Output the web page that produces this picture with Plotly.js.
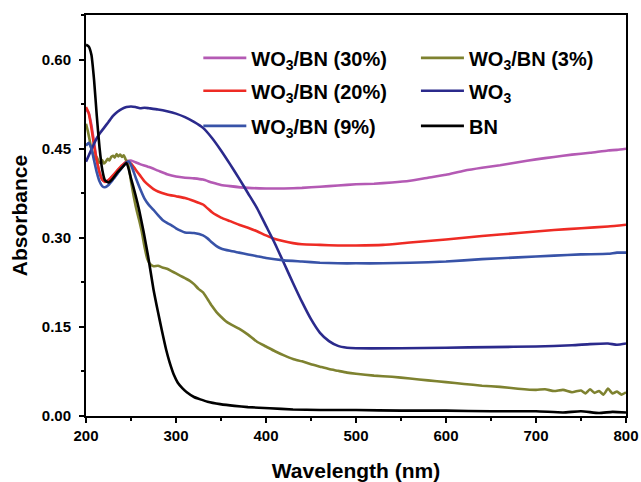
<!DOCTYPE html>
<html>
<head>
<meta charset="utf-8">
<script src="https://cdn.plot.ly/plotly-3.0.1.min.js"></script>
<style>
  html, body { margin: 0; padding: 0; background: #ffffff; }
  #chart { width: 641px; height: 482px; }
</style>
</head>
<body>
<div id="chart"></div>
<script>
// UV-Vis absorbance spectra of WO3, BN and WO3/BN composites

// WO3/BN (30%)
const wl30 = [200,203,206,209,212,215,218,221,225,230,235,240,245,250,255,260,270,280,290,300,310,320,330,340,350,360,380,400,420,440,460,480,500,520,540,560,580,600,620,640,660,680,700,720,740,760,780,790,800];
const abs30 = [0.515,0.510,0.490,0.460,0.430,0.410,0.398,0.395,0.397,0.405,0.413,0.421,0.428,0.430,0.427,0.424,0.419,0.413,0.407,0.403,0.401,0.400,0.398,0.393,0.389,0.387,0.384,0.383,0.383,0.384,0.386,0.388,0.390,0.391,0.393,0.396,0.401,0.406,0.413,0.418,0.422,0.427,0.432,0.436,0.440,0.443,0.447,0.448,0.450];

// WO3/BN (3%)
const wl3 = [200,202,204,206,208,210,212,214,216,218,220,222,224,226,228,230,232,234,236,238,240,242,244,246,248,250,253,256,259,262,265,268,271,275,280,285,290,295,300,305,310,315,320,325,330,335,340,345,350,355,360,370,380,390,400,410,420,430,440,450,460,470,480,490,500,520,540,560,580,600,620,640,660,680,700,710,720,730,740,750,755,760,765,770,775,780,785,790,795,800];
const abs3 = [0.492,0.480,0.465,0.450,0.440,0.432,0.436,0.428,0.426,0.431,0.425,0.428,0.433,0.430,0.436,0.438,0.435,0.441,0.437,0.440,0.436,0.439,0.432,0.428,0.415,0.395,0.370,0.348,0.330,0.310,0.285,0.265,0.256,0.252,0.253,0.250,0.248,0.244,0.240,0.236,0.232,0.228,0.222,0.214,0.208,0.197,0.185,0.175,0.167,0.160,0.155,0.147,0.137,0.125,0.117,0.109,0.102,0.096,0.092,0.087,0.083,0.079,0.076,0.073,0.071,0.068,0.066,0.063,0.060,0.057,0.054,0.051,0.049,0.046,0.044,0.045,0.042,0.044,0.040,0.043,0.038,0.045,0.039,0.042,0.036,0.046,0.038,0.041,0.036,0.040];

// WO3/BN (20%)
const wl20 = [200,203,206,209,212,215,218,221,225,230,235,240,245,250,255,260,265,270,275,280,290,300,310,320,330,340,345,350,360,370,380,390,400,410,420,430,440,460,480,500,530,560,600,640,680,720,750,780,800];
const abs20 = [0.520,0.510,0.485,0.455,0.430,0.410,0.398,0.394,0.397,0.405,0.414,0.422,0.428,0.425,0.415,0.405,0.395,0.388,0.382,0.378,0.373,0.370,0.367,0.362,0.356,0.343,0.338,0.334,0.328,0.322,0.317,0.311,0.304,0.298,0.294,0.291,0.289,0.288,0.287,0.287,0.288,0.292,0.297,0.303,0.308,0.313,0.316,0.319,0.322];

// WO3
const wlWO3 = [200,205,210,215,220,225,230,235,240,245,250,255,260,265,270,280,290,300,310,320,330,340,350,360,370,380,390,400,410,420,430,440,450,460,470,480,490,500,550,600,650,700,740,760,780,790,800];
const absWO3 = [0.428,0.445,0.462,0.475,0.485,0.495,0.505,0.512,0.517,0.520,0.521,0.520,0.518,0.519,0.518,0.516,0.513,0.509,0.503,0.495,0.485,0.468,0.447,0.424,0.400,0.375,0.350,0.320,0.290,0.257,0.224,0.192,0.163,0.140,0.126,0.118,0.115,0.114,0.114,0.115,0.116,0.117,0.119,0.121,0.122,0.120,0.122];

// WO3/BN (9%)
const wl9 = [200,203,206,209,212,215,218,221,225,230,235,240,245,248,252,256,260,265,270,275,280,285,290,295,300,305,310,320,330,335,340,345,350,360,370,380,390,400,420,440,460,480,500,530,560,600,640,680,720,750,780,790,800];
const abs9 = [0.455,0.460,0.450,0.430,0.410,0.395,0.387,0.385,0.389,0.398,0.408,0.418,0.427,0.428,0.415,0.398,0.383,0.366,0.355,0.347,0.338,0.330,0.325,0.321,0.316,0.312,0.309,0.308,0.304,0.299,0.292,0.286,0.282,0.278,0.275,0.272,0.269,0.266,0.262,0.260,0.258,0.257,0.257,0.257,0.258,0.260,0.264,0.267,0.270,0.272,0.273,0.275,0.275];

// BN
const wlBN = [200,203,206,209,212,215,218,221,225,230,235,240,245,250,255,259,264,269,275,280,284,289,293,298,302,307,312,320,327,335,349,365,380,404,430,460,479,500,550,600,650,700,730,750,770,785,800];
const absBN = [0.625,0.622,0.608,0.565,0.505,0.452,0.415,0.397,0.393,0.400,0.410,0.418,0.426,0.400,0.372,0.347,0.310,0.269,0.213,0.175,0.146,0.112,0.090,0.068,0.056,0.047,0.040,0.032,0.028,0.024,0.020,0.017,0.015,0.013,0.011,0.010,0.010,0.010,0.009,0.009,0.008,0.008,0.006,0.008,0.005,0.007,0.006];

// tick labels
const xTicks = [200,300,400,500,600,700,800];
const yTicks = [0.00,0.15,0.30,0.45,0.60];
const yTickText = ['0.00','0.15','0.30','0.45','0.60'];

const FONT = 'Liberation Sans, Arial, sans-serif';
const LW = 2.6;

// one legend box per entry, laid out as two columns by three rows
const legendCols = [0.208, 0.611];
const legendRows = [0.893, 0.811, 0.7235];

function series(x, y, name, color, legendId) {
  return {
    type: 'scatter', mode: 'lines', x: x, y: y, name: name,
    line: { color: color, width: LW, shape: 'spline', smoothing: 0.5 },
    legend: legendId
  };
}

const traces = [
  series(wl30, abs30, 'WO<sub>3</sub>/BN (30%)', '#b45ab4', 'legend'),
  series(wl3, abs3, 'WO<sub>3</sub>/BN (3%)', '#7e8230', 'legend2'),
  series(wl20, abs20, 'WO<sub>3</sub>/BN (20%)', '#ee2b24', 'legend3'),
  series(wlWO3, absWO3, 'WO<sub>3</sub>', '#2b2a8c', 'legend4'),
  series(wl9, abs9, 'WO<sub>3</sub>/BN (9%)', '#3853a8', 'legend5'),
  series(wlBN, absBN, 'BN', '#000000', 'legend6')
];

function legendBox(col, row) {
  return {
    orientation: 'v', x: legendCols[col], xanchor: 'left', y: legendRows[row], yanchor: 'middle',
    bgcolor: 'rgba(0,0,0,0)', borderwidth: 0, itemwidth: 43,
    font: { family: FONT, size: 20, weight: 'bold', color: '#000' }
  };
}

const axisCommon = {
  showline: true, linewidth: 2, linecolor: '#000', mirror: true,
  ticks: 'outside', ticklen: 5, tickwidth: 2, tickcolor: '#000',
  showgrid: false, zeroline: false,
  tickfont: { family: FONT, size: 15, weight: 'bold', color: '#000' }
};

const layout = {
  width: 641, height: 482,
  margin: { l: 86, r: 15, t: 15, b: 66 },
  paper_bgcolor: '#ffffff', plot_bgcolor: '#ffffff',
  showlegend: true,
  xaxis: Object.assign({}, axisCommon, {
    range: [200, 800], tickvals: xTicks,
    minor: { ticks: 'outside', ticklen: 3, tickwidth: 2, tickcolor: '#000', dtick: 50, tick0: 200 },
    title: { text: 'Wavelength (nm)', standoff: 21, font: { family: FONT, size: 21, weight: 'bold', color: '#000' } },
    automargin: false
  }),
  yaxis: Object.assign({}, axisCommon, {
    range: [0, 0.675], tickvals: yTicks, ticktext: yTickText,
    ticklabelstandoff: 5,
    minor: { ticks: 'outside', ticklen: 3, tickwidth: 2, tickcolor: '#000', dtick: 0.075, tick0: 0 },
    title: { text: 'Absorbance', standoff: 8, font: { family: FONT, size: 21, weight: 'bold', color: '#000' } },
    automargin: false
  }),
  legend: legendBox(0, 0),
  legend2: legendBox(1, 0),
  legend3: legendBox(0, 1),
  legend4: legendBox(1, 1),
  legend5: legendBox(0, 2),
  legend6: legendBox(1, 2)
};

Plotly.newPlot('chart', traces, layout, { staticPlot: true, displayModeBar: false });
</script>
</body>
</html>
